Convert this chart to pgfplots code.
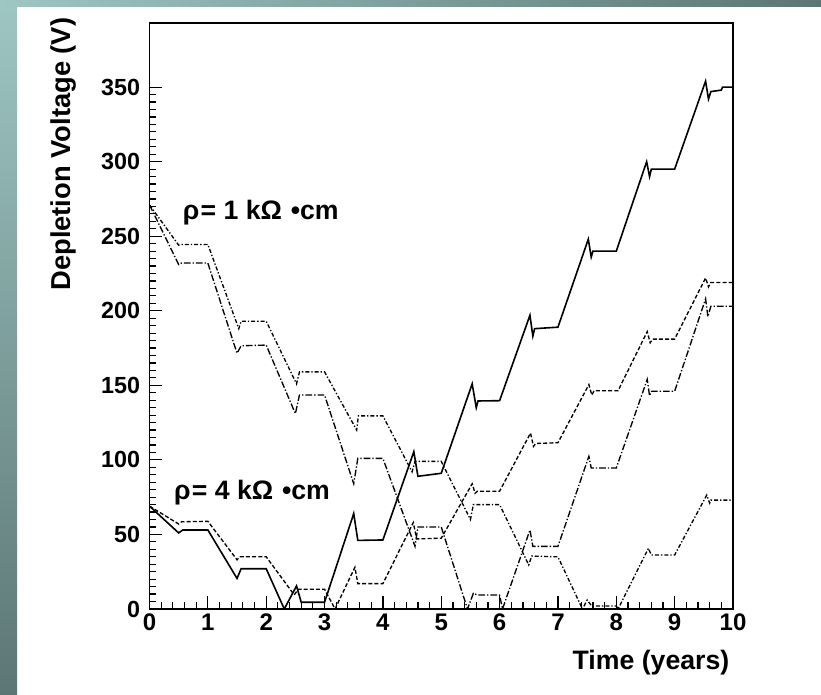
\documentclass[border=0pt]{standalone}
\usepackage{pgfplots}
\pgfplotsset{compat=1.18}
\usepackage{fontspec}
\setmainfont{Liberation Sans}
\definecolor{tl}{RGB}{158,198,195}
\definecolor{td}{RGB}{92,118,117}
\begin{document}
\begin{tikzpicture}
\path[use as bounding box] (0,0) rectangle (615.75pt,521.25pt);
\fill[white] (0,0) rectangle (615.75pt,521.25pt);
\shade[top color=tl, bottom color=td] (0,0) rectangle (12.75pt,521.25pt);
\shade[left color=tl, right color=td] (0,516pt) rectangle (615.75pt,521.25pt);
\begin{axis}[
  at={(112.125pt,64.5pt)}, anchor=south west,
  scale only axis, width=437.625pt, height=439.5pt,
  xmin=0, xmax=10, ymin=0, ymax=393,
  xtick={0,1,...,10}, ytick={0,50,...,350},
  minor x tick num=4, minor y tick num=9,
  xtick pos=bottom, ytick pos=left, tick align=inside,
  major tick length=9.5pt, minor tick length=5pt,
  axis line style={line width=1.2pt},
  every tick/.style={black, line width=0.9pt},
  /pgf/number format/assume math mode=true,
  xticklabel style={font=\fontsize{18}{18}\selectfont\bfseries},
  yticklabel style={font=\fontsize{17.5}{17.5}\selectfont\bfseries, xshift=-3.5pt},
  clip=true,
]
% rho = 4 kOhm cm, solid
\addplot[black, line width=1.2pt] coordinates {
(0,69)(0.5,51)(0.57,53)(1.0,53)(1.5,20.5)(1.57,27)(2.0,27)(2.31,0)(2.52,15.5)(2.6,4.5)(3.0,4.5)
(3.5,64)(3.57,46)(4.0,46.3)(4.53,105.5)(4.6,89)(5.0,91)(5.53,151)(5.6,135)(5.63,139.5)(6.0,139.7)
(6.52,197)(6.57,183)(6.6,188)(7.0,189)(7.52,248)(7.57,236)(7.6,240)(8.0,240)
(8.52,300)(8.57,290)(8.6,295)(9.0,295)(9.53,354)(9.58,342)(9.62,347)(9.8,348)(9.82,350)(10,350)};
% rho = 4 kOhm cm, dashed
\addplot[black, line width=1pt, dash pattern=on 3pt off 1.6pt] coordinates {
(0,69)(0.5,57)(0.55,58.5)(1.0,58.8)(1.5,33)(1.55,35)(2.0,35)(2.48,9.5)(2.55,13.2)(3.0,13.2)(3.18,0)
(3.52,28)(3.57,17)(4.0,17)(4.52,58)(4.58,47)(5.0,47.5)(5.53,84)(5.58,77.6)(5.62,79)(6.0,79)
(6.53,118)(6.58,109)(6.62,111)(7.0,111.5)(7.53,150.5)(7.58,143.5)(7.62,146.4)(8.03,146.4)
(8.53,186)(8.58,178.5)(8.62,181)(9.0,181)(9.53,222)(9.58,216)(9.62,219)(10,219)};
% rho = 1 kOhm cm, dash-dot (lower)
\addplot[black, line width=1pt, dash pattern=on 5pt off 1.5pt on 1pt off 1.5pt] coordinates {
(0,271)(0.5,231)(0.55,232)(1.0,232)(1.5,171.5)(1.57,176.5)(2.0,177)(2.5,131)(2.57,143.5)(3.0,143.5)
(3.5,84)(3.57,101)(4.0,101)(4.55,42)(4.6,55)(5.0,55)(5.45,0)(5.55,10.5)(5.62,9.4)(6.0,9.4)(6.05,0)
(6.52,53)(6.57,42)(7.0,42)(7.53,102.4)(7.57,94.6)(8.0,94.6)(8.53,154)(8.57,143)(8.6,146)(9.0,146)
(9.53,208)(9.57,196)(9.62,203)(10,203)};
% rho = 1 kOhm cm, dashed (upper)
\addplot[black, line width=1pt, dash pattern=on 3pt off 1.5pt on 1pt off 1.5pt] coordinates {
(0,271)(0.5,244)(0.55,244.5)(1.0,244.5)(1.53,188)(1.57,193)(2.0,193)(2.52,151)(2.57,159)(3.0,159)
(3.55,120)(3.58,129.5)(4.0,129.5)(4.5,92)(4.55,99)(5.0,99)(5.5,60)(5.55,70)(6.0,70)
(6.5,29.5)(6.55,35.5)(7.0,35)(7.42,0)(7.5,6)(7.58,2)(8.0,2)(8.03,0)(8.55,40.7)(8.6,36.2)(9.0,36.2)
(9.55,76.4)(9.6,71)(9.62,73)(10,73)};
\node[anchor=base west, font=\fontsize{20}{20}\selectfont\bfseries] at (axis cs:0.49,261) {ρ\kern1pt= 1 kΩ \kern1pt•cm};
\node[anchor=base west, font=\fontsize{20}{20}\selectfont\bfseries] at (axis cs:0.34,73.4) {ρ\kern1pt= 4 kΩ \kern1pt•cm};
\end{axis}
\node[anchor=base east, font=\fontsize{20}{20}\selectfont\bfseries] at (550.5pt,18.75pt) {Time (years)};
\node[anchor=base east, rotate=90, font=\fontsize{20.5}{20.5}\selectfont\bfseries] at (52.5pt,511.5pt) {Depletion Voltage (V)};
\end{tikzpicture}
\end{document}
